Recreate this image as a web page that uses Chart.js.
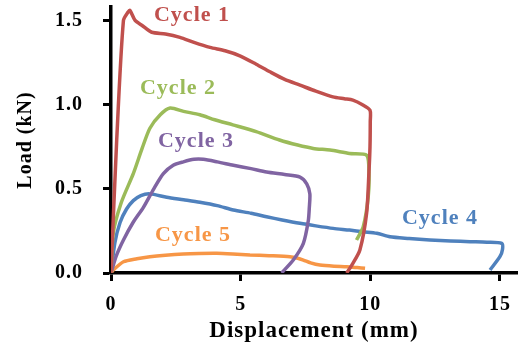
<!DOCTYPE html>
<html><head><meta charset="utf-8">
<script src="https://cdn.jsdelivr.net/npm/chart.js@4/dist/chart.umd.min.js"></script>
<style>html,body{margin:0;padding:0;background:#fff}#w{width:518px;height:345px}</style>
</head><body><div id="w"><canvas id="c"></canvas></div>
<script>
const seriesNames = ["Cycle 1","Cycle 2","Cycle 3","Cycle 4","Cycle 5"];
const xTicks = [0,5,10,15];
const yTicks = [0,0.5,1.0,1.5];
const cycle1X = [0,0.22,0.48,0.66,0.73,0.93,1.2,1.57,2.1,2.66,3.2,3.82,4.4,4.97,5.6,6.13,6.7,7.29,7.9,8.56,9.0,9.33,9.7,9.99,10.0,9.99,9.95,9.86,9.6,9.3,9.09];
const cycle1Y = [0,0.79,1.50,1.55,1.56,1.50,1.47,1.43,1.42,1.40,1.37,1.34,1.32,1.29,1.24,1.195,1.15,1.116,1.08,1.046,1.035,1.027,1.0,0.967,0.9,0.75,0.6,0.356,0.137,0.05,0];
const cycle2X = [0,0.09,0.4,0.86,1.2,1.5,1.9,2.28,2.8,3.43,4.0,4.7,5.6,6.5,7.2,7.8,8.45,9.2,9.86,9.95,9.92,9.73,9.47];
const cycle2Y = [0,0.24,0.42,0.59,0.74,0.86,0.94,0.98,0.96,0.94,0.91,0.88,0.84,0.79,0.76,0.74,0.73,0.71,0.70,0.6,0.45,0.275,0.196];
const cycle3X = [0,0.2,0.48,0.85,1.25,1.65,2.02,2.4,2.79,3.2,3.56,4.1,4.72,5.4,6.0,6.7,7.29,7.55,7.67,7.65,7.61,7.42,7.03,6.58];
const cycle3Y = [0,0.1,0.196,0.3,0.39,0.5,0.59,0.64,0.66,0.675,0.675,0.66,0.64,0.62,0.60,0.585,0.57,0.53,0.47,0.39,0.31,0.176,0.077,0];
const cycle4X = [0,0.15,0.35,0.6,0.86,1.15,1.5,2.15,2.8,3.43,4.1,4.72,5.4,6.0,6.6,7.29,7.9,8.57,9.2,9.73,10.25,10.76,11.5,12.3,13.1,13.85,14.5,15.07,15.1,15.0,14.62];
const cycle4Y = [0,0.18,0.30,0.38,0.43,0.46,0.47,0.45,0.435,0.42,0.40,0.374,0.355,0.334,0.315,0.295,0.28,0.265,0.255,0.245,0.236,0.215,0.205,0.196,0.19,0.186,0.183,0.176,0.14,0.097,0.018];
const cycle5X = [0,0.09,0.48,1.0,1.5,2.1,2.79,3.4,4.08,4.7,5.36,6.1,6.9,7.2,7.42,7.7,8.06,8.6,9.09,9.5,9.8];
const cycle5Y = [0,0.018,0.067,0.085,0.097,0.106,0.113,0.116,0.117,0.113,0.107,0.103,0.097,0.088,0.077,0.06,0.047,0.04,0.037,0.032,0.028];
const colors = ["#C0504D","#9BBB59","#8064A2","#4F81BD","#F79646"];
const labelPos = [[192,15],[178,88],[196,141],[440,218],[193,235]];

const xs=[cycle1X,cycle2X,cycle3X,cycle4X,cycle5X], ys=[cycle1Y,cycle2Y,cycle3Y,cycle4Y,cycle5Y];
const datasets = seriesNames.map((n,i)=>({
  label:n, data: xs[i].map((x,j)=>({x:x,y:ys[i][j]})),
  borderColor:colors[i], backgroundColor:colors[i], borderWidth:3.5,
  pointRadius:0, showLine:true, tension:0.25, fill:false
}));

const spacingPlugin = {
  id:'spacing',
  beforeDraw(chart){ chart.ctx.letterSpacing='1px'; },
  afterDraw(chart){ chart.ctx.letterSpacing='0px'; }
};
const labelsPlugin = {
  id:'lbls',
  afterDatasetsDraw(chart){
    const ctx=chart.ctx; ctx.save();
    ctx.font='bold 22px "Liberation Serif"'; ctx.textAlign='center'; ctx.textBaseline='middle';
    seriesNames.forEach((n,i)=>{ctx.fillStyle=colors[i]; ctx.fillText(n,labelPos[i][0],labelPos[i][1]);});
    ctx.restore();
  }
};

const font = {family:'"Liberation Serif"', weight:'bold', size:20};
new Chart(document.getElementById('c'),{
  type:'scatter',
  data:{datasets},
  plugins:[spacingPlugin,labelsPlugin],
  options:{
    responsive:true, maintainAspectRatio:false, animation:false,
    layout:{padding:{left:8,right:1,top:7,bottom:0}},
    plugins:{legend:{display:false},tooltip:{enabled:false}},
    scales:{
      x:{type:'linear',min:0,max:15.66,
        afterBuildTicks(s){s.ticks=xTicks.map(v=>({value:v}));},
        afterFit(s){s.height=72; s.paddingLeft=0; s.paddingRight=0;},
        ticks:{color:'#000',font:font,padding:12,maxRotation:0,callback:v=>String(v)},
        grid:{display:true,drawOnChartArea:false,drawTicks:true,tickLength:8,tickColor:'#000',tickWidth:3},
        border:{display:true,color:'#000',width:3.5},
        title:{display:true,text:'Displacement (mm)',color:'#000',font:{family:'"Liberation Serif"',weight:'bold',size:23},padding:{top:0,bottom:0}}
      },
      y:{type:'linear',min:0,max:1.58,
        afterBuildTicks(s){s.ticks=yTicks.map(v=>({value:v}));},
        afterFit(s){s.width=103; s.paddingTop=0; s.paddingBottom=0;},
        ticks:{color:'#000',font:font,padding:20,callback:v=>v.toFixed(1)},
        grid:{display:true,drawOnChartArea:false,drawTicks:true,tickLength:8,tickColor:'#000',tickWidth:3},
        border:{display:true,color:'#000',width:3.5},
        title:{display:true,text:'Load (kN)',color:'#000',font:{family:'"Liberation Serif"',weight:'bold',size:20},padding:{top:6,bottom:0}}
      }
    }
  }
});
</script></body></html>
